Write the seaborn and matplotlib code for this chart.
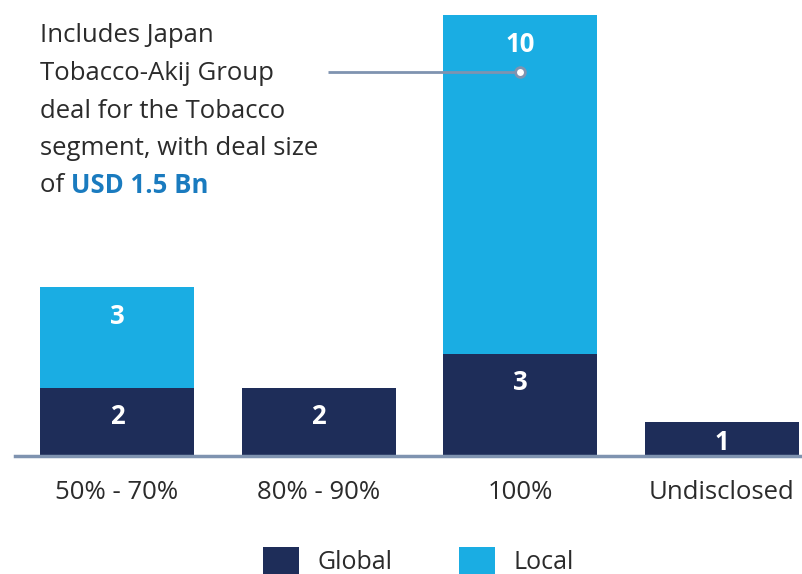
import matplotlib
matplotlib.use("Agg")
import matplotlib.pyplot as plt
import seaborn as sns
import pandas as pd
from matplotlib.patches import Patch

categories = ["50% - 70%", "80% - 90%", "100%", "Undisclosed"]
global_vals = [2, 2, 3, 1]
local_vals = [3, 0, 10, 0]
series_names = ["Global", "Local"]

NAVY = "#1e2d59"
LIGHT = "#1aade3"
AXIS = "#7f93b0"
TEXT = "#2b2b2b"
BLUE_TXT = "#1a7bbf"
FONT = ['Open Sans', 'DejaVu Sans']

sns.set_theme(style="white")
plt.rcParams['font.family'] = FONT

df = pd.DataFrame({"category": categories, "Global": global_vals, "Local": local_vals})

fig = plt.figure(figsize=(8.03, 5.74), dpi=100)
ax = fig.add_axes([15 / 803, (574 - 456) / 574, 788 / 803, 456 / 574])

sns.barplot(data=df, x="category", y="Global", order=categories, color=NAVY,
            width=0.764, ax=ax, saturation=1, linewidth=0)
sns.barplot(data=df, x="category", y="Local", order=categories, color=LIGHT,
            width=0.764, ax=ax, saturation=1, linewidth=0, bottom=df["Global"])

PX = 33.9  # pixels per unit
ax.set_xlim(-0.506, 3.402)
ax.set_ylim(0, 456 / PX)
ax.set_xlabel("")
ax.set_ylabel("")
ax.set_yticks([])
for s in ["top", "right", "left"]:
    ax.spines[s].set_visible(False)
ax.spines["bottom"].set_color(AXIS)
ax.spines["bottom"].set_linewidth(2.5)
ax.tick_params(axis="x", length=0, pad=17, labelsize=18.5, labelcolor=TEXT)

# value labels (placed near the top of each segment)
OFF_PX = 25
def label_y(bottom, h):
    if h * PX < 2 * OFF_PX + 6:
        return bottom + h / 2
    return bottom + h - OFF_PX / PX

for i, (g, l) in enumerate(zip(global_vals, local_vals)):
    if g:
        ax.text(i, label_y(0, g), str(g), ha="center", va="center_baseline", color="white",
                fontsize=18.5, fontweight="bold")
    if l:
        ax.text(i, label_y(g, l) - 0.05, str(l), ha="center", va="center_baseline",
                color="white", fontsize=18.5, fontweight="bold")

# annotation
lines = ["Includes Japan", "Tobacco-Akij Group", "deal for the Tobacco",
         "segment, with deal size"]
y0 = 33
FS = 18.5
for k, t in enumerate(lines):
    fig.text(40 / 803, 1 - (y0 + k * 37.5) / 574, t, ha="left", va="center_baseline",
             fontsize=FS, color=TEXT)
ylast = 1 - (y0 + 4 * 37.5) / 574
t1 = fig.text(40 / 803, ylast, "of ", ha="left", va="center_baseline", fontsize=FS, color=TEXT)
fig.canvas.draw()
bb = t1.get_window_extent()
fig.text(bb.x1 / fig.bbox.width, ylast, "USD 1.5 Bn", ha="left", va="center_baseline",
         fontsize=FS, color=BLUE_TXT, fontweight="bold")

ly = (456 - 72) / PX
ax.plot([1.046, 2.0], [ly, ly], color=AXIS, lw=2, solid_capstyle="butt", zorder=5)
ax.plot([2.0], [ly], marker="o", ms=7, mfc="white", mec=AXIS, mew=2, zorder=6)

handles = [Patch(facecolor=NAVY, edgecolor="none"), Patch(facecolor=LIGHT, edgecolor="none")]
leg = fig.legend(handles, series_names, loc="center", bbox_to_anchor=(0.521, 1 - 561 / 574),
                 ncol=2, frameon=False, fontsize=18, handlelength=1.44, handleheight=1.28,
                 handletextpad=0.72, columnspacing=2.68, labelcolor=TEXT)

fig.savefig("out.png", dpi=100)
